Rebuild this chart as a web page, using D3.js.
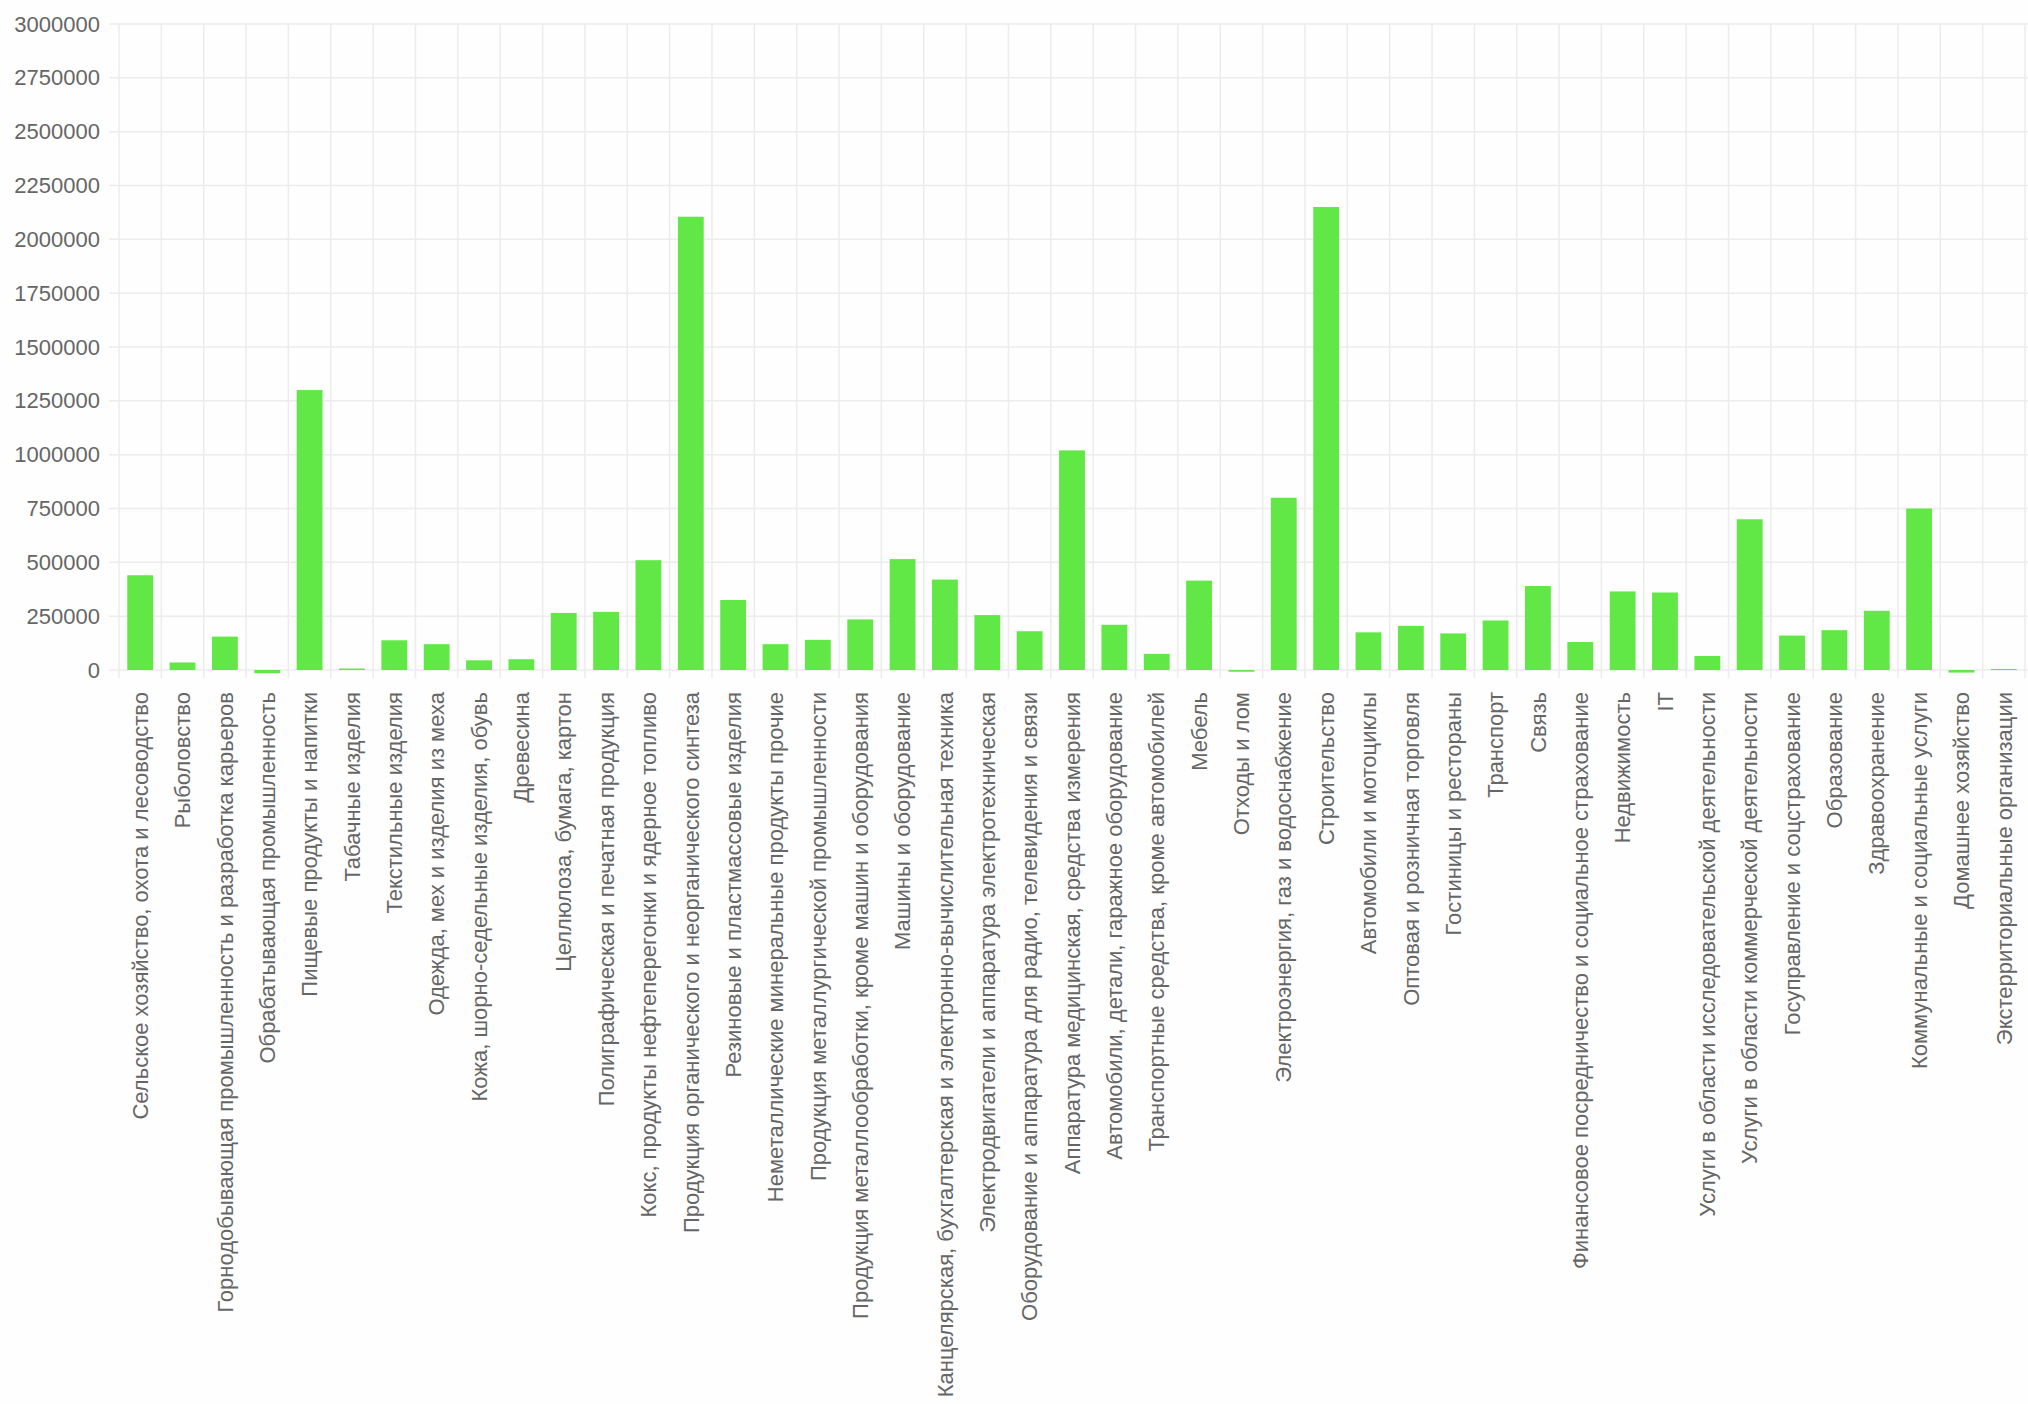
<!DOCTYPE html>
<html>
<head>
<meta charset="utf-8">
<script src="https://cdn.jsdelivr.net/npm/d3@7"></script>
<style>
  html, body { margin: 0; padding: 0; background: #fefefe; }
  svg { display: block; }
  text { font-family: "Liberation Sans", Arial, sans-serif; fill: #666; }
</style>
</head>
<body>
<svg id="chart" width="2028" height="1404"></svg>
<script>
const categories = [
  "Сельское хозяйство, охота и лесоводство",
  "Рыболовство",
  "Горнодобывающая промышленность и разработка карьеров",
  "Обрабатывающая промышленность",
  "Пищевые продукты и напитки",
  "Табачные изделия",
  "Текстильные изделия",
  "Одежда, мех и изделия из меха",
  "Кожа, шорно-седельные изделия, обувь",
  "Древесина",
  "Целлюлоза, бумага, картон",
  "Полиграфическая и печатная продукция",
  "Кокс, продукты нефтеперегонки и ядерное топливо",
  "Продукция органического и неорганического синтеза",
  "Резиновые и пластмассовые изделия",
  "Неметаллические минеральные продукты прочие",
  "Продукция металлургической промышленности",
  "Продукция металлообработки, кроме машин и оборудования",
  "Машины и оборудование",
  "Канцелярская, бухгалтерская и электронно-вычислительная техника",
  "Электродвигатели и аппаратура электротехническая",
  "Оборудование и аппаратура для радио, телевидения и связи",
  "Аппаратура медицинская, средства измерения",
  "Автомобили, детали, гаражное оборудование",
  "Транспортные средства, кроме автомобилей",
  "Мебель",
  "Отходы и лом",
  "Электроэнергия, газ и водоснабжение",
  "Строительство",
  "Автомобили и мотоциклы",
  "Оптовая и розничная торговля",
  "Гостиницы и рестораны",
  "Транспорт",
  "Связь",
  "Финансовое посредничество и социальное страхование",
  "Недвижимость",
  "IT",
  "Услуги в области исследовательской деятельности",
  "Услуги в области коммерческой деятельности",
  "Госуправление и соцстрахование",
  "Образование",
  "Здравоохранение",
  "Коммунальные и социальные услуги",
  "Домашнее хозяйство",
  "Экстерриториальные организации"
];

const values = [
  440000, 35000, 155000, -15000, 1300000, 7000, 138000, 120000, 45000, 50000,
  265000, 270000, 510000, 2105000, 325000, 120000, 140000, 235000, 515000, 420000,
  255000, 180000, 1020000, 210000, 75000, 415000, -8000, 800000, 2150000, 175000,
  205000, 170000, 230000, 390000, 130000, 365000, 360000, 65000, 700000, 160000,
  185000, 275000, 750000, -12000, 5000
];

const yTicks = [0, 250000, 500000, 750000, 1000000, 1250000, 1500000, 1750000,
  2000000, 2250000, 2500000, 2750000, 3000000];

const data = categories.map((c, i) => ({ cat: c, value: values[i] }));

const svg = d3.select("#chart");
const mLeft = 119, mRight = 2025, mTop = 24, mBottom = 670;

const x = d3.scaleBand()
  .domain(categories)
  .range([mLeft, mRight])
  .paddingInner(0.39)
  .paddingOuter(0.195);

const y = d3.scaleLinear()
  .domain([0, 3000000])
  .range([mBottom, mTop]);

const gridColor = "#ececec";

// horizontal grid lines + y tick marks
svg.append("g")
  .selectAll("line")
  .data(yTicks)
  .join("line")
  .attr("x1", mLeft - 10)
  .attr("x2", mRight + 3)
  .attr("y1", d => y(d))
  .attr("y2", d => y(d))
  .attr("stroke", gridColor)
  .attr("stroke-width", 1.5);

// vertical grid lines at category boundaries
const step = x.step();
const offset = step * x.paddingInner() / 2;
const bounds = categories.map(c => x(c) - offset);
bounds.push(x(categories[categories.length - 1]) + x.bandwidth() + offset);
svg.append("g")
  .selectAll("line")
  .data(bounds)
  .join("line")
  .attr("x1", d => d)
  .attr("x2", d => d)
  .attr("y1", mTop)
  .attr("y2", mBottom + 8)
  .attr("stroke", gridColor)
  .attr("stroke-width", 1.5);

// y axis labels
const yAxis = d3.axisLeft(y).tickValues(yTicks).tickSize(0).tickPadding(0)
  .tickFormat(d3.format("d"));
const gy = svg.append("g")
  .attr("transform", `translate(${mLeft - 19},0)`)
  .call(yAxis);
gy.select(".domain").remove();
gy.selectAll("text")
  .attr("font-size", 22)
  .attr("font-family", "'Liberation Sans', Arial, sans-serif")
  .attr("fill", "#666");

// bars
svg.append("g")
  .selectAll("rect")
  .data(data)
  .join("rect")
  .attr("x", d => x(d.cat))
  .attr("width", x.bandwidth())
  .attr("y", d => y(Math.max(0, d.value)))
  .attr("height", d => Math.abs(y(d.value) - y(0)))
  .attr("fill", "#62e846");

// x axis labels (rotated)
const xAxis = d3.axisBottom(x).tickSize(0).tickPadding(0);
const gx = svg.append("g")
  .attr("transform", `translate(0,${mBottom})`)
  .call(xAxis);
gx.select(".domain").remove();
gx.selectAll("text")
  .attr("font-size", 22)
  .attr("font-family", "'Liberation Sans', Arial, sans-serif")
  .attr("fill", "#666")
  .attr("text-anchor", "end")
  .attr("dy", "0.35em")
  .attr("transform", "translate(0,22) rotate(-90)")
  .attr("x", 0)
  .attr("y", 0);
</script>
</body>
</html>
